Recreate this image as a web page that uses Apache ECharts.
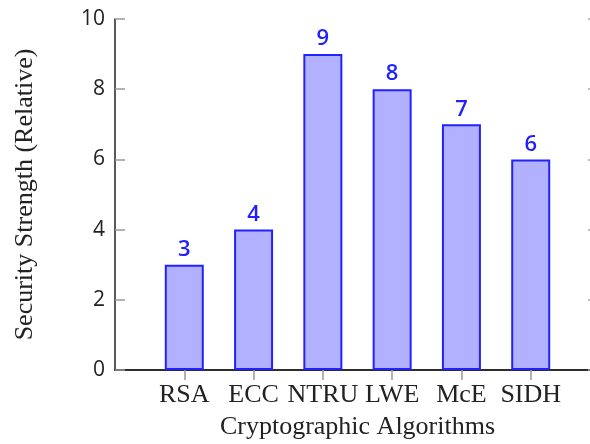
<!DOCTYPE html>
<html>
<head>
<meta charset="utf-8">
<script src="https://cdn.jsdelivr.net/npm/echarts@6/dist/echarts.min.js"></script>
<style>html,body{margin:0;padding:0;background:#fff}#c{width:590px;height:444px}</style>
</head>
<body>
<div id="c"></div>
<script>
const categories = ['RSA', 'ECC', 'NTRU', 'LWE', 'McE', 'SIDH'];
const strength = [3, 4, 9, 8, 7, 6];
const yTicks = [0, 2, 4, 6, 8, 10];

const axisCats = [''].concat(categories, ['']);
const barData = ['-'].concat(strength, ['-']);
const tickShow = (i) => i > 0 && i < axisCats.length - 1;

const chart = echarts.init(document.getElementById('c'));
chart.setOption({
  animation: false,
  grid: { left: 115, width: 485, top: 19, height: 351, containLabel: false, outerBoundsMode: 'none' },
  xAxis: [{
    type: 'category', data: axisCats, boundaryGap: false, position: 'bottom',
    axisLine: { lineStyle: { color: '#222', width: 1.5 } },
    axisTick: { show: true, interval: tickShow, length: 10, lineStyle: { color: '#999', width: 1.5 } },
    axisLabel: { interval: 0, margin: 12, color: '#222', fontFamily: 'Liberation Serif', fontSize: 26 },
    name: 'Cryptographic Algorithms', nameLocation: 'middle', nameGap: 44,
    nameTextStyle: { color: '#222', fontFamily: 'Liberation Serif', fontSize: 26 },
    splitLine: { show: false }
  }, {
    type: 'category', data: axisCats, boundaryGap: false, position: 'top',
    axisLine: { lineStyle: { color: '#222', width: 1.5 } },
    axisTick: { show: true, interval: tickShow, length: 10, lineStyle: { color: '#999', width: 1.5 } },
    axisLabel: { show: false },
    splitLine: { show: false }
  }],
  yAxis: [{
    type: 'value', min: yTicks[0], max: yTicks[yTicks.length - 1], interval: 2, position: 'left',
    axisLine: { show: true, lineStyle: { color: '#222', width: 1.5 } },
    axisTick: { show: true, inside: true, length: 10, lineStyle: { color: '#999', width: 1.5 } },
    axisLabel: { margin: 10, color: '#222', fontFamily: 'Open Sans', fontSize: 21 },
    splitLine: { show: false },
    name: 'Security Strength (Relative)', nameLocation: 'middle', nameGap: 77, nameRotate: 90,
    nameTextStyle: { color: '#222', fontFamily: 'Liberation Serif', fontSize: 26 }
  }, {
    type: 'value', min: yTicks[0], max: yTicks[yTicks.length - 1], interval: 2, position: 'right',
    axisLine: { show: true, lineStyle: { color: '#222', width: 1.5 } },
    axisTick: { show: true, inside: true, length: 12, lineStyle: { color: '#aaa', width: 1.5 } },
    axisLabel: { show: false },
    splitLine: { show: false }
  }],
  series: [{
    type: 'bar', data: barData, xAxisIndex: 0, yAxisIndex: 0, barWidth: 39,
    itemStyle: { color: '#b1b1ff', borderColor: '#2222ff', borderWidth: 2 },
    label: { show: true, position: 'top', distance: 4, color: '#1f1fff',
      fontFamily: 'Open Sans', fontSize: 22, fontWeight: 600 }
  }]
});
</script>
</body>
</html>
